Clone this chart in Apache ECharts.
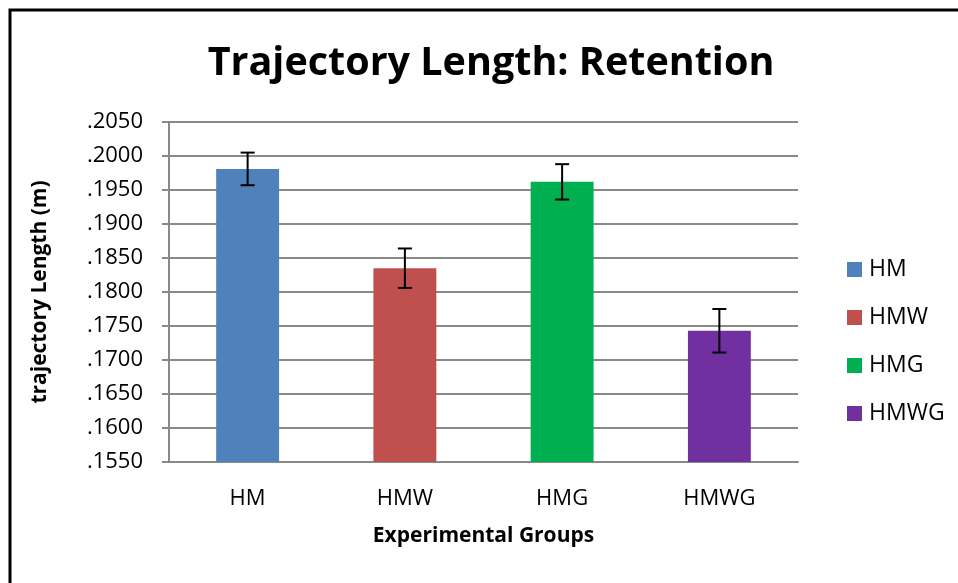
<!DOCTYPE html>
<html>
<head>
<meta charset="utf-8">
<script src="https://cdn.jsdelivr.net/npm/echarts@6/dist/echarts.min.js"></script>
<style>
  html, body { margin: 0; padding: 0; background: #fff; }
  #chart { width: 958px; height: 583px; }
</style>
</head>
<body>
<div id="chart"></div>
<script>
// groups and values
var groups = ['HM', 'HMW', 'HMG', 'HMWG'];
var means = [0.1981, 0.1835, 0.1962, 0.1743];
var errors = [0.0024, 0.0029, 0.0026, 0.0032];
var colors = ['#4f81bd', '#c0504d', '#00b050', '#7030a0'];

var font = '"Open Sans", sans-serif';
var gridColor = '#898989';

// one series per group so the legend lists each group
var barSeries = groups.map(function (g, i) {
    return {
        name: g,
        type: 'bar',
        barWidth: '40%',
        barGap: '-100%',
        itemStyle: { color: colors[i] },
        data: groups.map(function (_, j) { return j === i ? means[i] : '-'; })
    };
});

var errData = groups.map(function (g, i) {
    return [i, means[i] - errors[i], means[i] + errors[i]];
});

var chart = echarts.init(document.getElementById('chart'));
chart.setOption({
    animation: false,
    backgroundColor: '#fff',
    title: {
        text: 'Trajectory Length: Retention',
        left: 486,
        top: 39,
        textAlign: 'center',
        textStyle: { fontFamily: font, fontWeight: 'bold', fontSize: 39.5, color: '#000' }
    },
    legend: {
        orient: 'vertical',
        left: 842,
        top: 253,
        icon: 'rect',
        itemWidth: 15,
        itemHeight: 15,
        itemGap: 25,
        data: groups,
        textStyle: { fontFamily: font, fontSize: 23, color: '#000', lineHeight: 23, padding: [0, 0, 0, 2] }
    },
    grid: { left: 169, right: 160, top: 122, bottom: 121 },
    xAxis: {
        type: 'category',
        data: groups,
        name: 'Experimental Groups',
        nameLocation: 'middle',
        nameGap: 64,
        nameTextStyle: { fontFamily: font, fontWeight: 'bold', fontSize: 21, color: '#000' },
        axisLine: { lineStyle: { color: gridColor, width: 2 } },
        axisTick: { show: false },
        axisLabel: { margin: 26, fontFamily: font, fontSize: 22, color: '#000' }
    },
    yAxis: {
        type: 'value',
        min: 0.155,
        max: 0.205,
        interval: 0.005,
        name: 'trajectory Length (m)',
        nameLocation: 'middle',
        nameGap: 118,
        nameTextStyle: { fontFamily: font, fontWeight: 'bold', fontSize: 21, color: '#000' },
        axisLine: { show: true, lineStyle: { color: gridColor, width: 2 } },
        axisTick: { show: true, length: 7, lineStyle: { color: gridColor, width: 2 } },
        splitLine: { lineStyle: { color: gridColor, width: 2 } },
        axisLabel: {
            margin: 26,
            fontFamily: font,
            fontSize: 22,
            color: '#000',
            formatter: function (v) { return '.' + v.toFixed(4).slice(2); }
        }
    },
    series: barSeries.concat([{
        name: 'error',
        type: 'custom',
        z: 10,
        data: errData,
        renderItem: function (params, api) {
            var x = api.value(0);
            var lo = api.coord([x, api.value(1)]);
            var hi = api.coord([x, api.value(2)]);
            var half = 7;
            var style = { stroke: '#000', lineWidth: 2 };
            return {
                type: 'group',
                children: [
                    { type: 'line', shape: { x1: hi[0], y1: hi[1], x2: lo[0], y2: lo[1] }, style: style },
                    { type: 'line', shape: { x1: hi[0] - half, y1: hi[1], x2: hi[0] + half, y2: hi[1] }, style: style },
                    { type: 'line', shape: { x1: lo[0] - half, y1: lo[1], x2: lo[0] + half, y2: lo[1] }, style: style }
                ]
            };
        }
    }]),
    graphic: [{
        type: 'polyline',
        shape: { points: [[10, 583], [10, 10], [958, 10]] },
        style: { stroke: '#000', lineWidth: 3, fill: null }
    }]
});
</script>
</body>
</html>
